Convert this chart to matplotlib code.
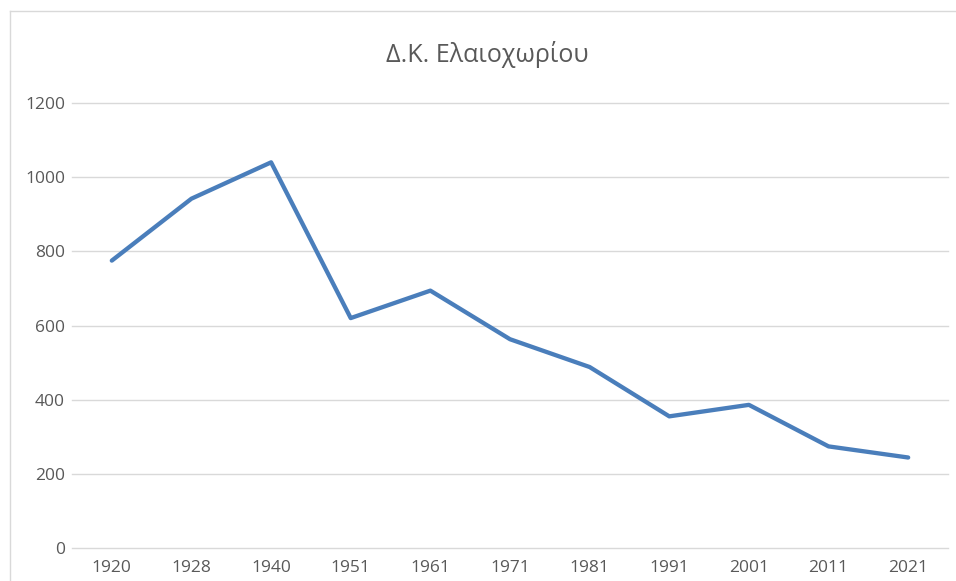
import matplotlib.pyplot as plt
from matplotlib.lines import Line2D

years = ["1920", "1928", "1940", "1951", "1961", "1971", "1981", "1991", "2001", "2011", "2021"]
population = [775, 942, 1040, 620, 694, 563, 488, 355, 386, 274, 244]
y_ticks = [0, 200, 400, 600, 800, 1000, 1200]

plt.rcParams["font.family"] = ["Open Sans", "DejaVu Sans"]

fig = plt.figure(figsize=(9.56, 5.81), dpi=100)
ax = fig.add_axes([72 / 956, 33 / 581, 876 / 956, 445 / 581])

# chart frame (light border like the spreadsheet)
fig.add_artist(Line2D([10 / 956, 10 / 956], [0, 1 - 11 / 581], color="#d9d9d9", lw=1))
fig.add_artist(Line2D([10 / 956, 1], [1 - 11 / 581, 1 - 11 / 581], color="#d9d9d9", lw=1))

x = range(len(years))
ax.plot(x, population, color="#4a7ebb", lw=3.1, solid_joinstyle="round", solid_capstyle="round")

ax.set_xlim(-0.5, len(years) - 0.5)
ax.set_ylim(0, 1200)
ax.set_yticks(y_ticks)
ax.set_xticks(list(x))
ax.set_xticklabels(years)

ax.grid(axis="y", color="#d9d9d9", lw=1)
for gl in ax.get_ygridlines():
    gl.set_clip_on(False)
ax.set_axisbelow(True)
for s in ax.spines.values():
    s.set_visible(False)
ax.tick_params(axis="both", length=0, labelsize=12.5, labelcolor="#595959")
ax.tick_params(axis="y", pad=5)
ax.tick_params(axis="x", pad=9)

fig.text(487 / 956, 1 - 54 / 581, "Δ.Κ. Ελαιοχωρίου", ha="center", va="center",
         fontsize=18, color="#595959")

plt.savefig("out.png", dpi=100)
